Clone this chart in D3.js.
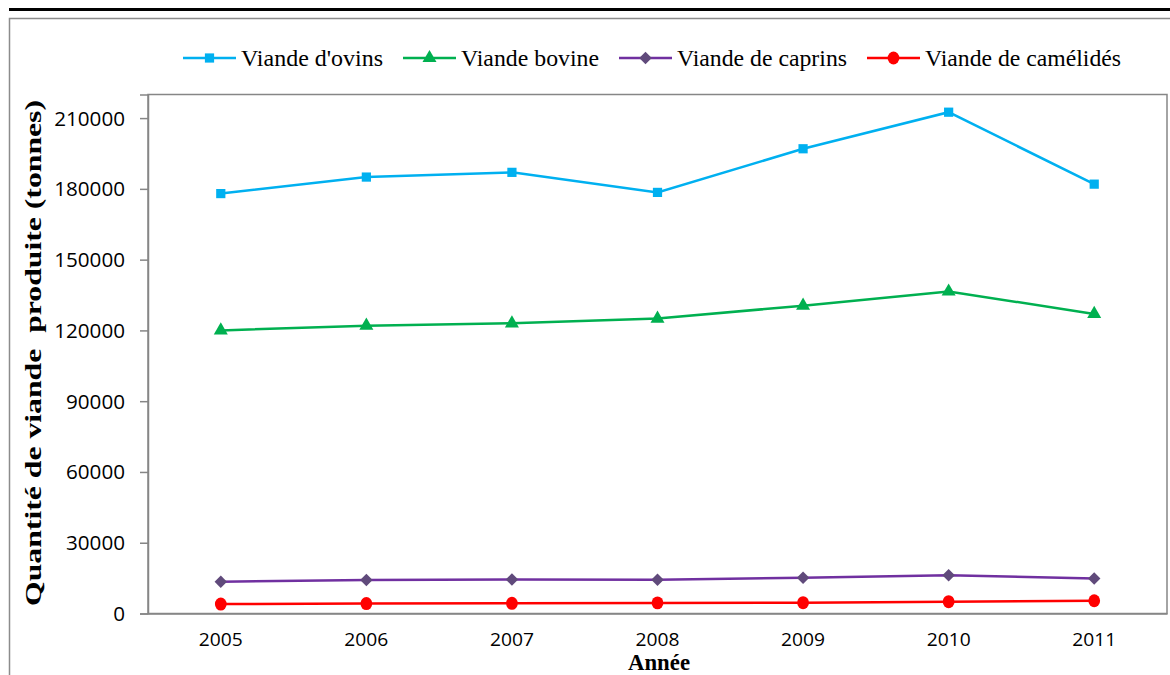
<!DOCTYPE html>
<html><head><meta charset="utf-8">
<script src="https://cdn.jsdelivr.net/npm/d3@7"></script>
<style>body{margin:0;background:#fff}svg{display:block}</style>
</head><body>
<svg id="chart" width="1170" height="675"></svg>
<script>
const years = ["2005","2006","2007","2008","2009","2010","2011"];
const ovins = [178000,185000,187000,178500,197000,212500,182000];
const bovine = [120000,122000,123000,125000,130500,136500,127000];
const caprins = [13500,14200,14400,14300,15200,16200,14800];
const camelides = [4000,4200,4300,4500,4600,5000,5400];
const yTicks = [0,30000,60000,90000,120000,150000,180000,210000];
const seriesNames = ["Viande d'ovins","Viande bovine","Viande de caprins","Viande de camélidés"];

const series = [
  {name: seriesNames[0], values: ovins, color: "#00B0F0", mcolor: "#00B0F0", marker: "square"},
  {name: seriesNames[1], values: bovine, color: "#00B050", mcolor: "#00B050", marker: "triangle"},
  {name: seriesNames[2], values: caprins, color: "#7030A0", mcolor: "#604A7B", marker: "diamond"},
  {name: seriesNames[3], values: camelides, color: "#FF0000", mcolor: "#FF0000", marker: "circle"}
];

const svg = d3.select("#chart");
const pl = 148, pr = 1167, pt = 94.5, pb = 613.5;

// outer frame
svg.append("rect").attr("x", 9.5).attr("y", 18.5).attr("width", 1180).attr("height", 700)
  .attr("fill", "none").attr("stroke", "#8c8c8c").attr("stroke-width", 1.5);
svg.append("rect").attr("x", 9).attr("y", 8).attr("width", 1161).attr("height", 3).attr("fill", "#000");

const x = d3.scaleBand().domain(years).range([pl, pr]);
const y = d3.scaleLinear().domain([0, 220000]).range([pb, pt]);

// plot area border
svg.append("rect").attr("x", pl).attr("y", pt).attr("width", pr - pl).attr("height", pb - pt)
  .attr("fill", "none").attr("stroke", "#868686").attr("stroke-width", 1.5);

// y axis
const yAxis = svg.append("g").attr("transform", `translate(${pl},0)`)
  .call(d3.axisLeft(y).tickValues(yTicks).tickSize(8).tickPadding(15).tickFormat(d3.format("d")));
yAxis.select(".domain").attr("stroke", "#868686").attr("stroke-width", 1.5);
yAxis.selectAll(".tick line").attr("stroke", "#868686").attr("stroke-width", 1.5);
yAxis.selectAll("text").attr("font-family", "'Open Sans', sans-serif").attr("font-size", 19.5)
  .attr("fill", "#000").attr("dy", "0.36em").attr("textLength", function(d){ return String(d).length * 11.8; })
  .attr("lengthAdjust", "spacingAndGlyphs");

// x axis
const xAxis = svg.append("g").attr("transform", `translate(0,${pb})`)
  .call(d3.axisBottom(x).tickSize(0).tickPadding(20));
xAxis.select(".domain").attr("stroke", "#868686").attr("stroke-width", 1.5);
xAxis.selectAll("text").attr("font-family", "'Open Sans', sans-serif").attr("font-size", 18)
  .attr("fill", "#000").attr("textLength", 44).attr("lengthAdjust", "spacingAndGlyphs");

// axis titles
svg.append("text").attr("x", 659).attr("y", 670).attr("text-anchor", "middle")
  .attr("font-family", "'Liberation Serif', 'Times New Roman', serif").attr("font-weight", "bold")
  .attr("font-size", 23).attr("textLength", 62).attr("lengthAdjust", "spacingAndGlyphs").text("Année");
svg.append("text").attr("transform", "translate(41,353) rotate(-90)").attr("text-anchor", "middle")
  .attr("font-family", "'Liberation Serif', 'Times New Roman', serif").attr("font-weight", "bold")
  .attr("font-size", 23.5).attr("textLength", 506).attr("lengthAdjust", "spacingAndGlyphs")
  .attr("xml:space", "preserve").style("white-space", "pre")
  .text("Quantité de viande  produite (tonnes)");

function markerPath(type) {
  const sym = {square: d3.symbolSquare, triangle: d3.symbolTriangle, diamond: d3.symbolSquare, circle: d3.symbolCircle}[type];
  const size = {square: 85, triangle: 85, diamond: 78, circle: 120}[type];
  return d3.symbol().type(sym).size(size)();
}
const markerScale = {square: "", triangle: "", diamond: "rotate(45)", circle: "scale(0.95,1.05)"};

const line = d3.line().x((d, i) => x(years[i]) + x.bandwidth() / 2).y(d => y(d));

series.forEach(s => {
  svg.append("path").attr("d", line(s.values)).attr("fill", "none")
    .attr("stroke", s.color).attr("stroke-width", 2.5);
  svg.selectAll(null).data(s.values).enter().append("path")
    .attr("d", markerPath(s.marker))
    .attr("transform", (d, i) => `translate(${x(years[i]) + x.bandwidth() / 2},${y(d)}) ${markerScale[s.marker]}`)
    .attr("fill", s.mcolor);
});

// legend
const legendX = [183, 403, 619, 867];
const legendW = [142, 138, 170, 196];
const ly = 58;
series.forEach((s, i) => {
  const g = svg.append("g").attr("transform", `translate(${legendX[i]},${ly})`);
  g.append("line").attr("x1", 0).attr("x2", 53).attr("y1", 0).attr("y2", 0)
    .attr("stroke", s.color).attr("stroke-width", 2.5);
  g.append("path").attr("d", markerPath(s.marker))
    .attr("transform", `translate(26.5,0) ${markerScale[s.marker]}`)
    .attr("fill", s.mcolor);
  g.append("text").attr("x", 58).attr("y", 7.5)
    .attr("font-family", "'Liberation Serif', 'Times New Roman', serif").attr("font-size", 23)
    .attr("textLength", legendW[i]).attr("lengthAdjust", "spacingAndGlyphs").text(s.name);
});
</script>
</body></html>
